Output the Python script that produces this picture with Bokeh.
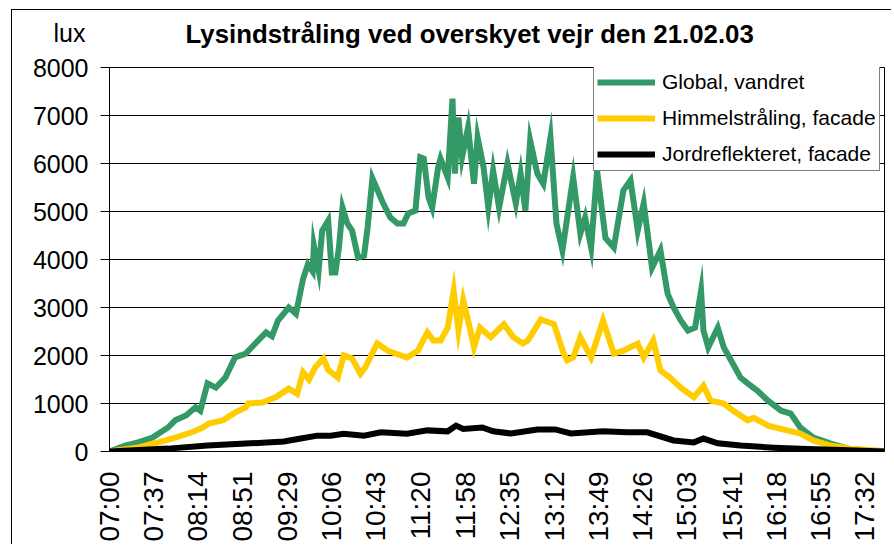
import math
from bokeh.plotting import figure
from bokeh.models import Range1d, FixedTicker, Legend, LegendItem, Title
from bokeh.embed import file_html
from bokeh.resources import INLINE

chart_title = "Lysindstråling ved overskyet vejr den 21.02.03"
y_unit = "lux"
tick_labels = ["07:00", "07:37", "08:14", "08:51", "09:29", "10:06", "10:43", "11:20", "11:58",
               "12:35", "13:12", "13:49", "14:26", "15:03", "15:41", "16:18", "16:55", "17:32"]
series_names = ["Global, vandret", "Himmelstråling, facade", "Jordreflekteret, facade"]
series_colors = ["#339966", "#FFCC00", "#000000"]

# minutes after 07:00 and lux values
global_min = [0, 13, 24, 36, 49, 55, 64, 72, 76, 82, 89, 97, 105, 114, 122, 131, 136, 141, 150, 156,
              162, 166, 170, 171, 175, 178, 183, 186, 189, 192, 195, 199, 203, 208, 213, 216, 220, 225,
              229, 235, 241, 246, 250, 256, 260, 263, 267, 270, 275, 277, 283, 287, 289, 292, 295, 300,
              305, 308, 313, 317, 321, 326, 333, 340, 344, 348, 352, 358, 363, 369, 374, 379, 383, 388,
              394, 398, 403, 408, 415, 422, 430, 436, 442, 447, 454, 461, 467, 472, 478, 484, 490, 495,
              497, 501, 509, 514, 520, 528, 534, 542, 551, 562, 570, 578, 589, 603, 618, 634, 648]
global_lux = [0, 125, 190, 290, 500, 650, 750, 920, 850, 1420, 1330, 1540, 1960, 2040, 2250, 2480, 2400,
              2730, 3000, 2870, 3600, 3900, 3750, 4290, 3770, 4600, 4810, 3730, 3730, 4250, 5080, 4750,
              4600, 4040, 4080, 4670, 5690, 5400, 5170, 4875, 4750, 4750, 4960, 5020, 6130, 6100, 5290,
              5080, 5920, 6100, 5710, 7350, 5790, 6960, 6130, 6750, 5580, 6540, 5920, 5080, 5850, 5080,
              6000, 5170, 5790, 5020, 6480, 5790, 5580, 6540, 4750, 4190, 4875, 5710, 4540, 4875, 4250,
              5850, 4450, 4250, 5440, 5650, 4600, 5170, 3830, 4190, 3290, 3000, 2730, 2520, 2580, 3350,
              2520, 2170, 2580, 2170, 1900, 1540, 1420, 1270, 1060, 850, 790, 500, 290, 170, 60, 20]

sky_min = [0, 24, 41, 55, 69, 78, 83, 95, 105, 114, 116, 128, 139, 150, 157, 162, 167, 172, 179, 183,
           191, 196, 203, 210, 214, 224, 233, 244, 249, 258, 266, 271, 277, 283, 288, 292, 296, 302, 305,
           310, 319, 330, 338, 346, 350, 361, 372, 380, 383, 388, 394, 403, 413, 422, 430, 442, 447, 455,
           461, 469, 478, 489, 497, 503, 514, 522, 534, 539, 551, 567, 578, 589, 603, 620, 648]
sky_lux = [0, 85, 190, 290, 400, 500, 580, 650, 810, 920, 1000, 1020, 1130, 1310, 1200, 1650, 1500, 1750,
           1940, 1700, 1540, 2000, 1940, 1620, 1750, 2250, 2100, 2000, 1960, 2100, 2480, 2310, 2310, 2580,
           3350, 2520, 3150, 2520, 2170, 2580, 2380, 2650, 2380, 2250, 2310, 2750, 2650, 2040, 1900, 1960,
           2380, 1960, 2730, 2040, 2100, 2250, 1960, 2310, 1690, 1540, 1330, 1130, 1370, 1060, 1000, 850,
           650, 700, 540, 440, 375, 230, 125, 60, 10]

ground_min = [0, 49, 82, 118, 146, 160, 174, 185, 196, 213, 227, 249, 266, 283, 290, 296, 312, 321, 336,
              358, 373, 386, 413, 433, 450, 472, 489, 497, 509, 528, 556, 584, 612, 648]
ground_lux = [0, 60, 125, 170, 210, 270, 330, 330, 370, 330, 400, 370, 440, 420, 540, 470, 500, 420, 375,
              460, 460, 375, 420, 400, 400, 230, 190, 270, 170, 125, 80, 50, 30, 0]

y_ticks = [0, 1000, 2000, 3000, 4000, 5000, 6000, 7000, 8000]


def to_min(s):
    h, m = s.split(":")
    return (int(h) - 7) * 60 + int(m)


tick_pos = [to_min(s) for s in tick_labels]

FONT = "Liberation Sans"

p = figure(width=880, height=535, output_backend="svg", toolbar_location=None,
           x_range=Range1d(0, 648.5), y_range=Range1d(0, 8000),
           min_border_left=97, min_border_right=8, min_border_top=57, min_border_bottom=94,
           background_fill_color="white", border_fill_color="white")
p.styles = {"border-left": "1px solid black", "border-top": "1px solid black",
            "margin-left": "11px", "margin-top": "9px"}
p.title.text = ""

main_title = Title(text=chart_title, align="left", offset=76, standoff=-96, vertical_align="top",
                   text_font=FONT, text_font_size="25.8px", text_font_style="bold", text_color="black")
unit_title = Title(text=y_unit, align="left", offset=-56, standoff=-97, vertical_align="top",
                   text_font=FONT, text_font_size="25px", text_font_style="normal", text_color="black")
p.add_layout(main_title, "above")
p.add_layout(unit_title, "above")

p.outline_line_color = "black"
p.xgrid.visible = False
p.ygrid.grid_line_color = "black"
p.ygrid.grid_line_alpha = 1.0

p.yaxis.ticker = FixedTicker(ticks=y_ticks)
p.yaxis.axis_line_color = "black"
p.yaxis.major_tick_line_color = "black"
p.yaxis.major_tick_out = 9
p.yaxis.major_tick_in = 0
p.yaxis.minor_tick_line_color = None
p.yaxis.major_label_text_font = FONT
p.yaxis.major_label_text_font_size = "25px"
p.yaxis.major_label_text_color = "black"
p.yaxis.major_label_standoff = 12

p.xaxis.ticker = FixedTicker(ticks=tick_pos)
p.xaxis.major_label_overrides = {pos: lab for pos, lab in zip(tick_pos, tick_labels)}
p.xaxis.major_label_orientation = math.pi / 2
p.xaxis.axis_line_color = "black"
p.xaxis.major_tick_line_color = None
p.xaxis.major_tick_out = 0
p.xaxis.major_tick_in = 0
p.xaxis.minor_tick_line_color = None
p.xaxis.major_label_text_font = FONT
p.xaxis.major_label_text_font_size = "28px"
p.xaxis.major_label_text_color = "black"
p.xaxis.major_label_standoff = 20

data = [(global_min, global_lux), (sky_min, sky_lux), (ground_min, ground_lux)]
renderers = []
for (xs, ys), col in zip(data, series_colors):
    r = p.line(xs, ys, line_color=col, line_width=6, line_join="miter")
    renderers.append(r)

legend = Legend(items=[LegendItem(label=n, renderers=[r]) for n, r in zip(series_names, renderers)],
                location=(484, 280), margin=0, padding=3, spacing=10,
                glyph_width=58, glyph_height=26, label_height=26, label_standoff=7,
                label_text_font=FONT, label_text_font_size="21px", label_text_color="black",
                border_line_color="black", border_line_width=1,
                background_fill_color="white", background_fill_alpha=1.0)
p.add_layout(legend)

open("out.html", "w").write(file_html(p, INLINE))
